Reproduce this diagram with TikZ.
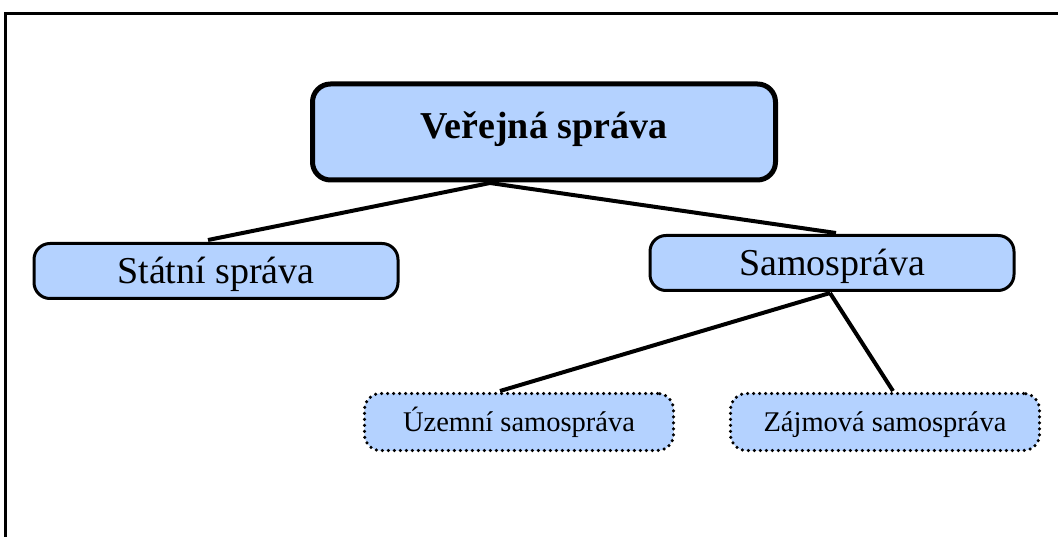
\documentclass[tikz,border=0pt]{standalone}
\usepackage{fontspec}
\setmainfont{Liberation Serif}
\usepackage{tikz}

\definecolor{boxblue}{RGB}{180,210,255}

\tikzset{
  topbox/.style={draw, fill=boxblue, line width=5pt, rounded corners=18pt,
    minimum width=463pt, minimum height=96pt, inner sep=0pt,
    text height=25pt, text depth=12pt,
    font=\fontsize{38}{44}\selectfont\bfseries},
  midbox/.style={draw, fill=boxblue, line width=3pt, rounded corners=16pt,
    minimum width=364pt, minimum height=55pt, inner sep=0pt,
    text height=25.5pt, text depth=0pt,
    font=\fontsize{38}{44}\selectfont},
  lowbox/.style={draw, fill=boxblue, line width=3.5pt, line cap=round,
    dash pattern=on 0pt off 6pt, rounded corners=16pt,
    minimum width=309pt, minimum height=57pt, inner sep=0pt,
    text height=19pt, text depth=0pt,
    font=\fontsize{28.5}{34}\selectfont},
  link/.style={line width=4pt},
}

\begin{document}
\begin{tikzpicture}[x=1pt, y=-1pt]
  \useasboundingbox (0,0) rectangle (1058,537);
  \fill[white] (0,0) rectangle (1058,537);

  % frame
  \draw[line width=3pt] (5.5,537) -- (5.5,13.5) -- (1058,13.5);

  \node[topbox] (VS) at (544,132) {Veřejná správa};
  \node[midbox] (SS) at (216,271) {Státní správa};
  \node[midbox] (SA) at (832,263) {Samospráva};
  \node[lowbox] (US) at (519,422) {Územní samospráva};
  \node[lowbox] (ZS) at (885,422) {Zájmová samospráva};

  \coordinate (vsb) at (490,183);
  \coordinate (ssa) at (208,240);
  \coordinate (sat) at (836,233);
  \coordinate (sab) at (830,293);
  \coordinate (usa) at (500,391);
  \coordinate (zsa) at (893,391);

  \draw[link] (vsb) -- (ssa);
  \draw[link] (vsb) -- (sat);
  \draw[link] (sab) -- (usa);
  \draw[link] (sab) -- (zsa);
\end{tikzpicture}
\end{document}
